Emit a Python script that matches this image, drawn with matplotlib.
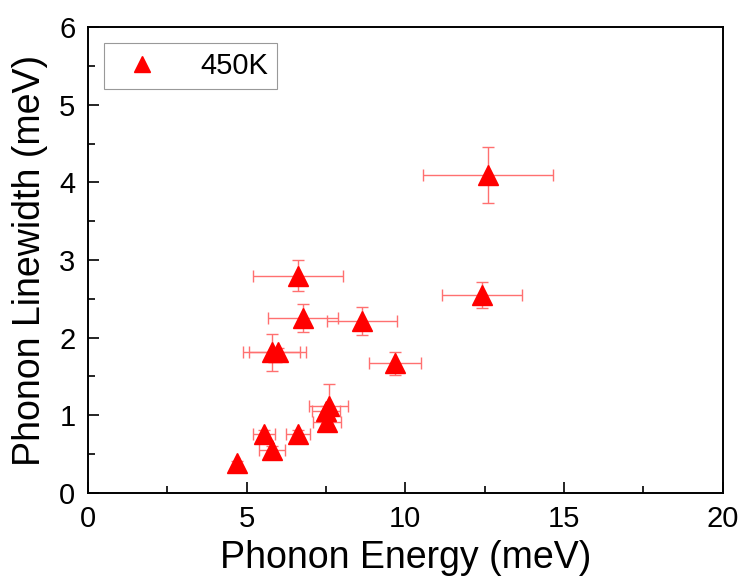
import matplotlib
matplotlib.use('Agg')
import matplotlib.pyplot as plt
from matplotlib.ticker import MultipleLocator

plt.rcParams['font.family'] = ['Liberation Sans', 'DejaVu Sans']

# phonon energy (meV), linewidth (meV) and their uncertainties at 450K
energy = [4.70, 5.54, 5.80, 6.62, 7.52, 7.50, 7.58,
          5.79, 5.98, 6.78, 6.62, 8.64, 9.68, 12.43, 12.60]
linewidth = [0.38, 0.76, 0.55, 0.76, 0.92, 1.06, 1.12,
             1.81, 1.82, 2.25, 2.80, 2.21, 1.67, 2.55, 4.10]
energy_err = [0.05, 0.35, 0.41, 0.37, 0.44, 0.45, 0.60,
              0.90, 0.90, 1.10, 1.42, 1.10, 0.82, 1.26, 2.05]
linewidth_err = [0.03, 0.05, 0.05, 0.05, 0.11, 0.06, 0.28,
                 0.24, 0.05, 0.18, 0.20, 0.18, 0.15, 0.17, 0.36]

fig = plt.figure(figsize=(7.39, 5.81), dpi=100)
ax = fig.add_axes([0.119, 0.1515, 0.859, 0.802])

ax.errorbar(energy, linewidth, xerr=energy_err, yerr=linewidth_err,
            fmt='none', ecolor='#ff7070', elinewidth=1.0, capsize=4,
            capthick=1.0, zorder=2)
ax.plot(energy, linewidth, linestyle='none', marker='^', markersize=15,
        color='red', markeredgecolor='red', label='450K', zorder=3)

ax.set_xlim(0, 20)
ax.set_ylim(0, 6)
ax.xaxis.set_major_locator(MultipleLocator(5))
ax.xaxis.set_minor_locator(MultipleLocator(2.5))
ax.yaxis.set_major_locator(MultipleLocator(1))
ax.yaxis.set_minor_locator(MultipleLocator(0.5))
ax.tick_params(which='both', direction='in', top=False, right=False,
               width=1.2, labelsize=21)
ax.tick_params(which='major', length=8, pad=9)
ax.tick_params(which='minor', length=5)
for s in ax.spines.values():
    s.set_linewidth(1.4)

ax.set_xlabel('Phonon Energy (meV)', fontsize=27, labelpad=5)
ax.set_ylabel('Phonon Linewidth (meV)', fontsize=27, labelpad=8)

leg = ax.legend(loc='upper left', fontsize=21, frameon=True, fancybox=False,
                edgecolor='gray', borderpad=0.3, handletextpad=1.0,
                borderaxespad=0.55, markerscale=0.75)
leg.get_frame().set_linewidth(0.8)

fig.savefig('out.png', dpi=100)
